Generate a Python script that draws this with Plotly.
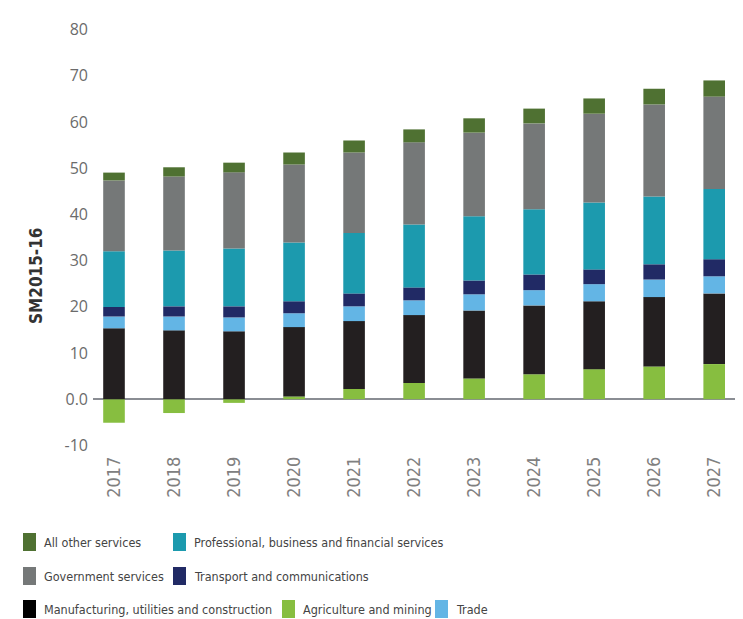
import plotly.graph_objects as go

years = ["2017", "2018", "2019", "2020", "2021", "2022", "2023", "2024", "2025", "2026", "2027"]

agriculture = [-5.1, -3.0, -0.8, 0.6, 2.2, 3.5, 4.5, 5.4, 6.5, 7.1, 7.6]
manufacturing = [15.35, 14.9, 14.7, 15.0, 14.7, 14.7, 14.7, 14.9, 14.7, 15.0, 15.3]
trade = [2.55, 3.0, 3.0, 3.0, 3.2, 3.2, 3.5, 3.3, 3.7, 3.8, 3.7]
transport = [2.05, 2.2, 2.4, 2.6, 2.8, 2.8, 3.0, 3.4, 3.2, 3.3, 3.7]
professional = [12.1, 12.1, 12.5, 12.7, 13.1, 13.6, 13.9, 14.1, 14.5, 14.7, 15.2]
government = [15.3, 16.0, 16.5, 16.9, 17.4, 17.8, 18.1, 18.6, 19.2, 19.9, 20.0]
other = [1.7, 2.0, 2.1, 2.6, 2.6, 2.8, 3.1, 3.2, 3.3, 3.4, 3.5]

y_tickvals = [-10, 0, 10, 20, 30, 40, 50, 60, 70, 80]
y_ticktext = ["-10", "0.0", "10", "20", "30", "40", "50", "60", "70", "80"]

series = [
    ("Agriculture and mining", agriculture, "#87BE40"),
    ("Manufacturing, utilities and construction", manufacturing, "#231F20"),
    ("Trade", trade, "#63B5E5"),
    ("Transport and communications", transport, "#212A65"),
    ("Professional, business and financial services", professional, "#1C9AAE"),
    ("Government services", government, "#757878"),
    ("All other services", other, "#4F7132"),
]

fig = go.Figure()
for name, vals, col in series:
    fig.add_trace(go.Bar(x=years, y=vals, name=name, marker_color=col,
                         marker_line_width=0, showlegend=False))

# page body has an 8px margin; design in window pixels then shift
OFF = 8
W, H = 743 - OFF, 619 - OFF
ml, mt = 93 - OFF, 25 - OFF
pw, ph = 644, 425
mr = W - ml - pw
mb = H - mt - ph

def px2paper_x(px):
    return (px - OFF - ml) / pw

def px2paper_y(py):
    return (mt + ph - (py - OFF)) / ph

# legend layout (positions in window pixels)
legend_items = [
    ("All other services", "#4F7132", 23, 542),
    ("Professional, business and financial services", "#1C9AAE", 173, 542),
    ("Government services", "#757878", 23, 576),
    ("Transport and communications", "#212A65", 173, 576),
    ("Manufacturing, utilities and construction", "#000000", 23, 609),
    ("Agriculture and mining", "#87BE40", 282, 609),
    ("Trade", "#63B5E5", 435, 609),
]
narrow = "DejaVu Sans Condensed, Liberation Sans Narrow, Open Sans, sans-serif"
for label, col, sx, cy in legend_items:
    fig.add_shape(type="rect", xref="paper", yref="paper",
                  x0=px2paper_x(sx), x1=px2paper_x(sx + 13),
                  y0=px2paper_y(cy + 9), y1=px2paper_y(cy - 9),
                  fillcolor=col, line_width=0)
    fig.add_annotation(xref="paper", yref="paper", x=px2paper_x(sx + 19), y=px2paper_y(cy),
                       text=label, showarrow=False, xanchor="left", yanchor="middle",
                       font=dict(family=narrow, size=12.5, color="#444444"))

fig.add_annotation(xref="paper", yref="paper", x=px2paper_x(36), y=px2paper_y(276),
                   text="<b>SM2015-16</b>", textangle=-90, showarrow=False,
                   xanchor="center", yanchor="middle",
                   font=dict(family=narrow, size=17, color="#333333"))

fig.update_layout(
    width=W, height=H,
    margin=dict(l=ml, r=mr, t=mt, b=mb),
    barmode="relative",
    bargap=0.64,
    plot_bgcolor="white", paper_bgcolor="white",
    xaxis=dict(range=[-0.35, 10.38], showgrid=False, showline=False, zeroline=False,
               tickangle=-90, ticks="", ticklabelstandoff=2,
               tickfont=dict(family=narrow, size=18, color="#808080")),
    yaxis=dict(range=[-11, 81], tickvals=y_tickvals, ticktext=y_ticktext,
               showgrid=False, showline=False, zeroline=True, zerolinecolor="#8a8d93",
               zerolinewidth=2, ticks="", ticklabelstandoff=4,
               tickfont=dict(family="Open Sans", size=16, color="#6b6b6b")),
)

fig.write_html("out.html")
